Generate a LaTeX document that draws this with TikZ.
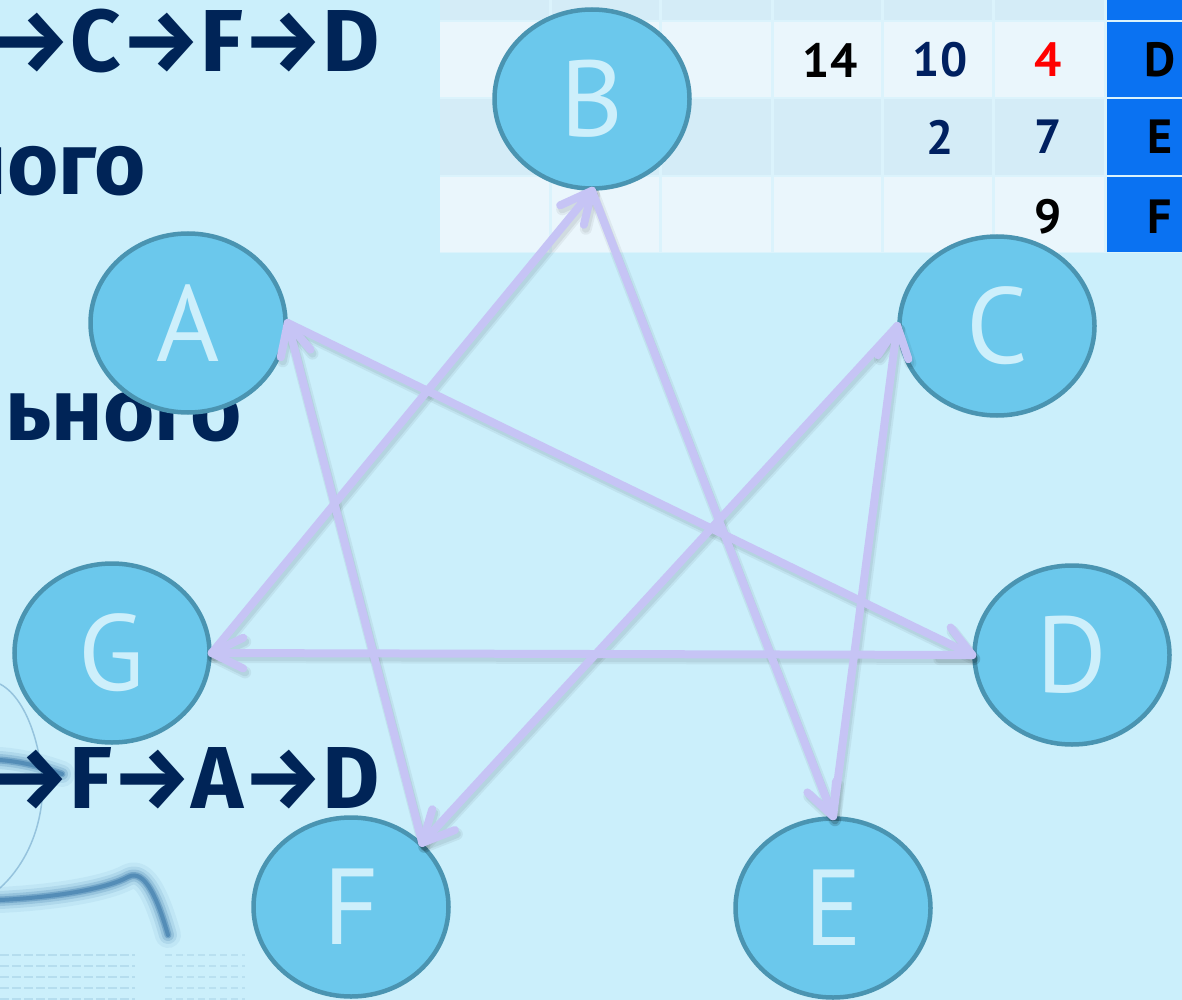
\documentclass[tikz,border=0pt]{standalone}
\usepackage{fontspec}
\setmainfont{PT Sans}
\newfontfamily\headfont{Fira Sans}
\usetikzlibrary{calc,shapes.geometric}

\definecolor{bgcyan}{HTML}{CBEFFB}
\definecolor{nodefill}{HTML}{6BC8EC}
\definecolor{nodeline}{HTML}{4A94B1}
\definecolor{nodetext}{HTML}{CDEFFB}
\definecolor{edgecol}{HTML}{C6C4F5}
\definecolor{navy}{HTML}{002457}
\definecolor{numnavy}{HTML}{002060}
\definecolor{cellA}{HTML}{EAF6FC}
\definecolor{cellB}{HTML}{D4ECF7}
\definecolor{gridline}{HTML}{DBF3FC}
\definecolor{keyblue}{HTML}{0A72F2}
\definecolor{decoblue}{HTML}{1B5E98}

% a straight connector with an open barb at its target end
\newcommand\drawlink[3]{%
  \draw[#1] (#2) -- (#3);
  \draw[#1] ($(#3)!35pt!26:(#2)$) -- (#3) -- ($(#3)!35pt!-26:(#2)$);
}

\begin{document}
\begin{tikzpicture}[x=1pt,y=-1pt,
  vertex/.style={ellipse, draw=nodeline, line width=4.5pt, fill=nodefill,
    minimum width=195pt, minimum height=179pt, inner sep=0pt,
    text=nodetext, font=\fontsize{108}{108}\selectfont},
  link/.style={draw=edgecol, line width=8pt, line cap=round, line join=round},
  linkshade/.style={link, draw=black, opacity=0.05, line width=12pt},
  linkshadecore/.style={link, draw=black, opacity=0.06, line width=8pt},
  route/.style={anchor=base east, inner sep=0pt, text=navy,
    font=\headfont\bfseries\fontsize{88}{88}\selectfont},
  num/.style={inner sep=0pt, font=\bfseries\fontsize{48}{48}\selectfont},
  smear/.style={decoblue, line cap=round, line join=round},
]
\useasboundingbox (0,0) rectangle (1182,1000);
\clip (0,0) rectangle (1182,1000);

% background
\fill[bgcyan] (0,0) rectangle (1182,1000);

% blurred glasses and paper print in the lower left corner
\foreach \w/\o in {26/0.06, 18/0.10, 12/0.16, 7/0.28, 4/0.35}{
  \draw[smear, opacity=\o, line width=\w pt]
    (0,900) .. controls (60,897) and (108,888) .. (128,877)
    .. controls (145,868) and (158,900) .. (168,935);
  \draw[smear, opacity=\o, line width=\w pt]
    (0,760) .. controls (25,762) and (45,768) .. (62,774);
}
\draw[decoblue, opacity=0.3, line width=1.5pt]
  (0,684) .. controls (30,700) and (45,760) .. (42,800)
  .. controls (38,840) and (20,870) .. (0,888);
\foreach \yy in {955,966,977,988,999}{
  \draw[decoblue, opacity=0.12, line width=2.5pt, dash pattern=on 9pt off 3pt]
    (0,\yy) -- (135,\yy);
  \draw[decoblue, opacity=0.10, line width=2.5pt, dash pattern=on 7pt off 4pt]
    (165,\yy) -- (245,\yy);
}

% distance table
\fill[gridline] (440,-60) rectangle (1215,253);
\foreach \t/\b/\c in {-60/20/cellB, 22/97/cellA, 99/175/cellB, 177/252/cellA}{
  \foreach \l/\r in {440/548.5, 551.5/658.5, 661.5/770.5, 773.5/880.5, 883.5/991.5, 994.5/1103.5}
    \fill[\c] (\l,\t) rectangle (\r,\b);
  \fill[keyblue] (1106.5,\t) rectangle (1215,\b);
}
\node[num, text=black]   (d14) at (830,60)  {14};
\node[num, text=numnavy] (d10) at (940,60)  {10};
\node[num, text=red]     (d4)  at (1048,60) {4};
\node[num, text=numnavy] (e2)  at (940,137) {2};
\node[num, text=numnavy] (e7)  at (1048,137) {7};
\node[num, text=black]   (f9)  at (1048,217) {9};
\node[num, text=black]   (kD)  at (1160,60)  {D};
\node[num, text=black]   (kE)  at (1160,137) {E};
\node[num, text=black]   (kF)  at (1160,217) {F};

% route text on the left
\node[route] (r1) at (380,72)  {A→C→F→D};
\node[route] (r2) at (146,195) {ного};
\node[route] (r3) at (242,440) {льного};
\node[route] (r4) at (380,808) {G→F→A→D};

% vertices
\node[vertex] (A) at (188,323) {A};
\node[vertex] (B) at (592,99)  {B};
\node[vertex] (C) at (997,326) {C};
\node[vertex] (D) at (1072,655) {D};
\node[vertex] (E) at (833,908) {E};
\node[vertex] (F) at (351,907) {F};
\node[vertex] (G) at (112,653) {G};

% directed edges with soft shadows
\begin{scope}[transform canvas={shift={(2,4)}}]
  \foreach \s in {linkshade, linkshadecore}{
    \drawlink{\s}{G.east}{B.south}
    \drawlink{\s}{B.south}{E.north}
    \drawlink{\s}{E.north}{C.west}
    \drawlink{\s}{C.west}{F.42}
    \drawlink{\s}{F.42}{A.east}
    \drawlink{\s}{A.east}{D.west}
    \drawlink{\s}{D.west}{G.east}
  }
\end{scope}
\drawlink{link}{G.east}{B.south}
\drawlink{link}{B.south}{E.north}
\drawlink{link}{E.north}{C.west}
\drawlink{link}{C.west}{F.42}
\drawlink{link}{F.42}{A.east}
\drawlink{link}{A.east}{D.west}
\drawlink{link}{D.west}{G.east}
\end{tikzpicture}
\end{document}
